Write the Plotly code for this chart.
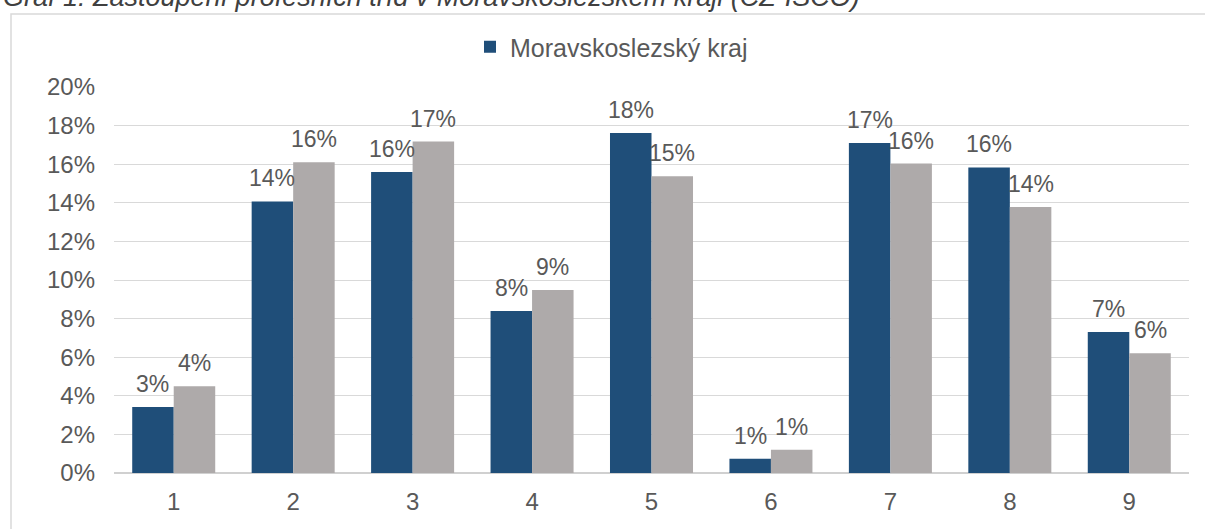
import plotly.graph_objects as go

categories = ["1", "2", "3", "4", "5", "6", "7", "8", "9"]
msk_values = [0.0342, 0.1407, 0.1560, 0.0840, 0.1762, 0.0074, 0.1710, 0.1583, 0.0730]
cr_values = [0.0449, 0.1610, 0.1717, 0.0948, 0.1537, 0.0120, 0.1603, 0.1378, 0.0620]
y_ticks = [0, 0.02, 0.04, 0.06, 0.08, 0.10, 0.12, 0.14, 0.16, 0.18, 0.20]
series_name = "Moravskoslezský kraj"
title_text = "Graf 1: Zastoupení profesních tříd v Moravskoslezském kraji (CZ-ISCO)"

BLUE = "#1f4e79"
GRAY = "#aeaaaa"
TXT = "#595959"
FONT = "Liberation Sans, Arial, sans-serif"

W, H = 1205, 529
L, R, T, B = 114, 16, 87, 56
BARGAP = 0.305

fig = go.Figure()
fig.add_trace(go.Bar(x=list(range(len(categories))), y=msk_values, name=series_name,
                     marker=dict(color=BLUE, line=dict(width=0)), showlegend=True))
fig.add_trace(go.Bar(x=list(range(len(categories))), y=cr_values, name="ČR",
                     marker=dict(color=GRAY, line=dict(width=0)), showlegend=False))

# data labels above bars (positions derived from the data and bar layout)
half = (1 - BARGAP) / 4
for i, (a, b) in enumerate(zip(msk_values, cr_values)):
    for xoff, v in ((-half, a), (half, b)):
        fig.add_annotation(x=i + xoff, y=v, xref="x", yref="y",
                           text=f"{round(v * 100):.0f}%", showarrow=False,
                           yanchor="middle", xanchor="center", yshift=23,
                           font=dict(family=FONT, size=23, color=TXT))

pw, ph = W - L - R, H - T - B

# title (partially cut at top, as in the reference)
fig.add_annotation(xref="paper", yref="paper", x=(1 - L) / pw, y=1,
                   xanchor="left", yanchor="bottom", yshift=73, showarrow=False,
                   text=f"<i>{title_text}</i>",
                   font=dict(family=FONT, size=27, color="#404040"))

# chart border
fig.add_shape(type="rect", xref="paper", yref="paper",
              x0=(11 - L) / pw, x1=(W + 20 - L) / pw,
              y0=(H - B - (H + 20)) / ph, y1=(H - B - 14) / ph,
              line=dict(color="#d9d9d9", width=1.5), fillcolor="rgba(0,0,0,0)", layer="below")

fig.update_layout(
    width=W, height=H,
    margin=dict(l=L, r=R, t=T, b=B),
    paper_bgcolor="white", plot_bgcolor="white",
    barmode="group", bargap=BARGAP, bargroupgap=0,
    font=dict(family=FONT, color=TXT),
    legend=dict(orientation="h", x=(470 - L) / pw, xanchor="left",
                y=(H - B - 47) / ph, yanchor="middle",
                font=dict(family=FONT, size=25, color=TXT),
                bgcolor="rgba(0,0,0,0)", itemwidth=30),
    xaxis=dict(tickmode="array", tickvals=list(range(len(categories))), ticktext=categories,
               range=[-0.5, len(categories) - 0.5], showgrid=False, zeroline=False,
               showline=False, ticks="", ticklabelstandoff=12,
               tickfont=dict(family=FONT, size=24, color=TXT)),
    yaxis=dict(range=[0, 0.2], tickmode="array", tickvals=y_ticks,
               ticktext=[f"{round(t * 100)}%" for t in y_ticks],
               showgrid=True, gridcolor="#d9d9d9", gridwidth=1,
               zeroline=True, zerolinecolor="#d0d0d0", zerolinewidth=1.5,
               showline=False, ticks="", ticklabelstandoff=18,
               tickfont=dict(family=FONT, size=24, color=TXT)),
)

fig.write_html("out.html", config={"displayModeBar": False},
               post_script="document.body.style.margin='0';")
